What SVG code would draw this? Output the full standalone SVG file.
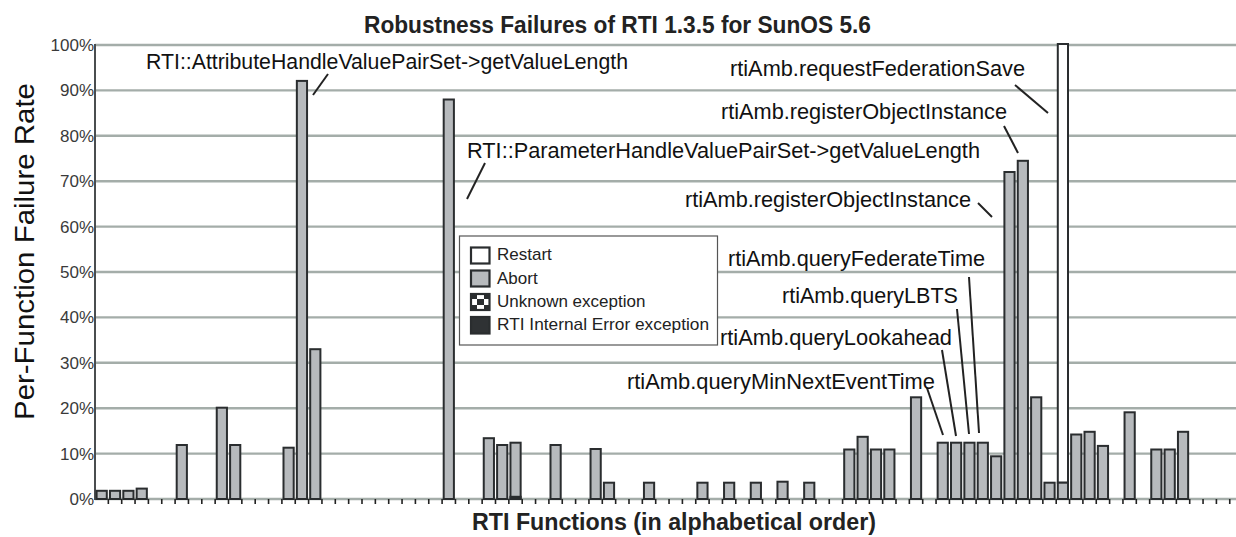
<svg xmlns="http://www.w3.org/2000/svg" width="1236" height="537" viewBox="0 0 1236 537">
<style>
.grid{stroke:#a4ada9;stroke-width:2.4}
.bar{fill:#b7babd;stroke:#2a2d2f;stroke-width:2}
.rst{fill:#ffffff;stroke:#2a2d2f;stroke-width:2}
.tick{stroke:#222;stroke-width:1.6}
.ylab{font-family:"Liberation Sans",Arial,sans-serif;font-size:17px;fill:#3a3a3a;text-anchor:end}
.lbl{font-family:"Liberation Sans",Arial,sans-serif;font-size:22px;fill:#111}
.lead{stroke:#222;stroke-width:2;fill:none}
.leg{font-family:"Liberation Sans",Arial,sans-serif;font-size:17px;fill:#222}
.ttl{font-family:"Liberation Sans",Arial,sans-serif;font-size:23px;font-weight:bold;fill:#222}
</style>
<defs>
<pattern id="chk" x="470" y="293" width="14" height="12" patternUnits="userSpaceOnUse">
<rect width="14" height="12" fill="#2a2d2f"/>
<rect x="7" y="0" width="7" height="6" fill="#ffffff"/>
<rect x="0" y="6" width="7" height="6" fill="#ffffff"/>
</pattern>
</defs>
<rect width="1236" height="537" fill="#ffffff"/>
<g id="title"><text class="ttl" x="364" y="33" textLength="507" lengthAdjust="spacingAndGlyphs">Robustness Failures of RTI 1.3.5 for SunOS 5.6</text></g>
<g id="grid">
<line class="grid" x1="95" y1="45" x2="1236" y2="45"/>
<line class="grid" x1="95" y1="90.4" x2="1236" y2="90.4"/>
<line class="grid" x1="95" y1="135.8" x2="1236" y2="135.8"/>
<line class="grid" x1="95" y1="181.2" x2="1236" y2="181.2"/>
<line class="grid" x1="95" y1="226.6" x2="1236" y2="226.6"/>
<line class="grid" x1="95" y1="272" x2="1236" y2="272"/>
<line class="grid" x1="95" y1="317.4" x2="1236" y2="317.4"/>
<line class="grid" x1="95" y1="362.8" x2="1236" y2="362.8"/>
<line class="grid" x1="95" y1="408.2" x2="1236" y2="408.2"/>
<line class="grid" x1="95" y1="453.6" x2="1236" y2="453.6"/>
<line class="grid" x1="95" y1="499" x2="1236" y2="499"/>
</g>
<g id="yaxis">
<line x1="95" y1="44" x2="95" y2="500" stroke="#4a4d4f" stroke-width="2"/>
<text class="ylab" x="94" y="51">100%</text>
<text class="ylab" x="94" y="96.4">90%</text>
<text class="ylab" x="94" y="141.8">80%</text>
<text class="ylab" x="94" y="187.2">70%</text>
<text class="ylab" x="94" y="232.6">60%</text>
<text class="ylab" x="94" y="278">50%</text>
<text class="ylab" x="94" y="323.4">40%</text>
<text class="ylab" x="94" y="368.8">30%</text>
<text class="ylab" x="94" y="414.2">20%</text>
<text class="ylab" x="94" y="459.6">10%</text>
<text class="ylab" x="94" y="505">0%</text>
<text transform="translate(34,251.5) rotate(-90)" text-anchor="middle" font-family="Liberation Sans, Arial, sans-serif" font-size="27" fill="#111" textLength="337" lengthAdjust="spacingAndGlyphs">Per-Function Failure Rate</text>
</g>
<g id="xticks">
<path class="tick" d="M108.35 499v5M121.7 499v5M135.05 499v5M148.4 499v5M161.75 499v5M175.1 499v5M188.45 499v5M201.8 499v5M215.15 499v5M228.5 499v5M241.85 499v5M255.2 499v5M268.55 499v5M281.9 499v5M295.25 499v5M308.6 499v5M321.95 499v5M335.3 499v5M348.65 499v5M362 499v5M375.35 499v5M388.7 499v5M402.05 499v5M415.4 499v5M428.75 499v5M442.1 499v5M455.45 499v5M468.8 499v5M482.15 499v5M495.5 499v5M508.85 499v5M522.2 499v5M535.55 499v5M548.9 499v5M562.25 499v5M575.6 499v5M588.95 499v5M602.3 499v5M615.65 499v5M629 499v5M642.35 499v5M655.7 499v5M669.05 499v5M682.4 499v5M695.75 499v5M709.1 499v5M722.45 499v5M735.8 499v5M749.15 499v5M762.5 499v5M775.85 499v5M789.2 499v5M802.55 499v5M815.9 499v5M829.25 499v5M842.6 499v5M855.95 499v5M869.3 499v5M882.65 499v5M896 499v5M909.35 499v5M922.7 499v5M936.05 499v5M949.4 499v5M962.75 499v5M976.1 499v5M989.45 499v5M1002.8 499v5M1016.15 499v5M1029.5 499v5M1042.85 499v5M1056.2 499v5M1069.55 499v5M1082.9 499v5M1096.25 499v5M1109.6 499v5M1122.95 499v5M1136.3 499v5M1149.65 499v5M1163 499v5M1176.35 499v5M1189.7 499v5M1203.05 499v5M1216.4 499v5M1229.75 499v5"/>
<text x="674" y="530" text-anchor="middle" class="ttl" textLength="404" lengthAdjust="spacingAndGlyphs">RTI Functions (in alphabetical order)</text>
</g>
<g id="bars">
<rect class="bar" x="96.6" y="490.8" width="10.2" height="8.2"/>
<rect class="bar" x="109.95" y="490.8" width="10.2" height="8.2"/>
<rect class="bar" x="123.3" y="490.8" width="10.2" height="8.2"/>
<rect class="bar" x="136.65" y="488.6" width="10.2" height="10.4"/>
<rect class="bar" x="176.7" y="445" width="10.2" height="54"/>
<rect class="bar" x="216.75" y="407.7" width="10.2" height="91.3"/>
<rect class="bar" x="230.1" y="445" width="10.2" height="54"/>
<rect class="bar" x="283.5" y="447.7" width="10.2" height="51.3"/>
<rect class="bar" x="296.85" y="80.9" width="10.2" height="418.1"/>
<rect class="bar" x="310.2" y="349.2" width="10.2" height="149.8"/>
<rect class="bar" x="443.7" y="99.5" width="10.2" height="399.5"/>
<rect class="bar" x="483.75" y="438.2" width="10.2" height="60.8"/>
<rect class="bar" x="497.1" y="445" width="10.2" height="54"/>
<rect class="bar" x="510.45" y="442.7" width="10.2" height="56.3"/>
<rect x="510.45" y="496.8" width="10.2" height="2.2" fill="#2a2d2f" stroke="#2a2d2f" stroke-width="2"/>
<rect class="bar" x="550.5" y="445" width="10.2" height="54"/>
<rect class="bar" x="590.55" y="449" width="10.2" height="50"/>
<rect class="bar" x="603.9" y="482.7" width="10.2" height="16.3"/>
<rect class="bar" x="643.95" y="482.7" width="10.2" height="16.3"/>
<rect class="bar" x="697.35" y="482.7" width="10.2" height="16.3"/>
<rect class="bar" x="724.05" y="482.7" width="10.2" height="16.3"/>
<rect class="bar" x="750.75" y="482.7" width="10.2" height="16.3"/>
<rect class="bar" x="777.45" y="481.7" width="10.2" height="17.3"/>
<rect class="bar" x="804.15" y="482.7" width="10.2" height="16.3"/>
<rect class="bar" x="844.2" y="449.5" width="10.2" height="49.5"/>
<rect class="bar" x="857.55" y="436.8" width="10.2" height="62.2"/>
<rect class="bar" x="870.9" y="449.5" width="10.2" height="49.5"/>
<rect class="bar" x="884.25" y="449.5" width="10.2" height="49.5"/>
<rect class="bar" x="910.95" y="397.3" width="10.2" height="101.7"/>
<rect class="bar" x="937.65" y="442.7" width="10.2" height="56.3"/>
<rect class="bar" x="951" y="442.7" width="10.2" height="56.3"/>
<rect class="bar" x="964.35" y="442.7" width="10.2" height="56.3"/>
<rect class="bar" x="977.7" y="442.7" width="10.2" height="56.3"/>
<rect class="bar" x="991.05" y="456.3" width="10.2" height="42.7"/>
<rect class="bar" x="1004.4" y="172" width="10.2" height="327"/>
<rect class="bar" x="1017.75" y="160.8" width="10.2" height="338.2"/>
<rect class="bar" x="1031.1" y="397.3" width="10.2" height="101.7"/>
<rect class="bar" x="1044.45" y="482.7" width="10.2" height="16.3"/>
<rect class="rst" x="1057.8" y="44" width="10.2" height="438.7"/>
<rect class="bar" x="1057.8" y="482.7" width="10.2" height="16.3"/>
<rect class="bar" x="1071.15" y="434.5" width="10.2" height="64.5"/>
<rect class="bar" x="1084.5" y="431.8" width="10.2" height="67.2"/>
<rect class="bar" x="1097.85" y="445.9" width="10.2" height="53.1"/>
<rect class="bar" x="1124.55" y="412.3" width="10.2" height="86.7"/>
<rect class="bar" x="1151.25" y="449.5" width="10.2" height="49.5"/>
<rect class="bar" x="1164.6" y="449.5" width="10.2" height="49.5"/>
<rect class="bar" x="1177.95" y="431.8" width="10.2" height="67.2"/>
</g>
<g id="connectors">
<line class="lead" x1="328" y1="74" x2="313" y2="95"/>
<line class="lead" x1="485" y1="163" x2="467" y2="199"/>
<line class="lead" x1="1015" y1="85" x2="1048" y2="113"/>
<line class="lead" x1="1004" y1="126" x2="1018" y2="153"/>
<line class="lead" x1="978" y1="203" x2="992" y2="217"/>
<line class="lead" x1="969" y1="277" x2="979" y2="433"/>
<line class="lead" x1="957" y1="309" x2="969" y2="434"/>
<line class="lead" x1="942" y1="350" x2="956" y2="436"/>
<line class="lead" x1="927" y1="388" x2="943" y2="435"/>
</g>
<g id="label-attr"><text class="lbl" x="146" y="69" textLength="482" lengthAdjust="spacingAndGlyphs">RTI::AttributeHandleValuePairSet-&gt;getValueLength</text></g>
<g id="label-param"><text class="lbl" x="467" y="158" textLength="513" lengthAdjust="spacingAndGlyphs">RTI::ParameterHandleValuePairSet-&gt;getValueLength</text></g>
<g id="label-save"><text class="lbl" x="730" y="76" textLength="295" lengthAdjust="spacingAndGlyphs">rtiAmb.requestFederationSave</text></g>
<g id="label-reg1"><text class="lbl" x="721" y="119" textLength="286" lengthAdjust="spacingAndGlyphs">rtiAmb.registerObjectInstance</text></g>
<g id="label-reg2"><text class="lbl" x="685" y="206.5" textLength="286" lengthAdjust="spacingAndGlyphs">rtiAmb.registerObjectInstance</text></g>
<g id="label-fedtime"><text class="lbl" x="728" y="266" textLength="257" lengthAdjust="spacingAndGlyphs">rtiAmb.queryFederateTime</text></g>
<g id="label-lbts"><text class="lbl" x="782" y="302.5" textLength="176" lengthAdjust="spacingAndGlyphs">rtiAmb.queryLBTS</text></g>
<g id="label-look"><text class="lbl" x="720" y="345" textLength="232" lengthAdjust="spacingAndGlyphs">rtiAmb.queryLookahead</text></g>
<g id="label-minnext"><text class="lbl" x="627" y="389" textLength="308" lengthAdjust="spacingAndGlyphs">rtiAmb.queryMinNextEventTime</text></g>
<g id="legend">
<rect x="459.5" y="236" width="258" height="109" fill="#ffffff" stroke="#555" stroke-width="1.2"/>
<rect x="471" y="247.5" width="18.5" height="16" fill="#ffffff" stroke="#2a2d2f" stroke-width="2.2"/>
<rect x="471" y="270.5" width="18.5" height="16" fill="#b7babd" stroke="#2a2d2f" stroke-width="2.2"/>
<rect x="471" y="294" width="18.5" height="16" fill="url(#chk)" stroke="#2a2d2f" stroke-width="2.2"/>
<rect x="471" y="317" width="18.5" height="16.5" fill="#2f3234" stroke="#2a2d2f" stroke-width="2.2"/>
<text class="leg" x="497" y="260">Restart</text>
<text class="leg" x="497" y="283.5">Abort</text>
<text class="leg" x="497" y="306.5">Unknown exception</text>
<text class="leg" x="497" y="330" textLength="212" lengthAdjust="spacingAndGlyphs">RTI Internal Error exception</text>
</g>
</svg>
